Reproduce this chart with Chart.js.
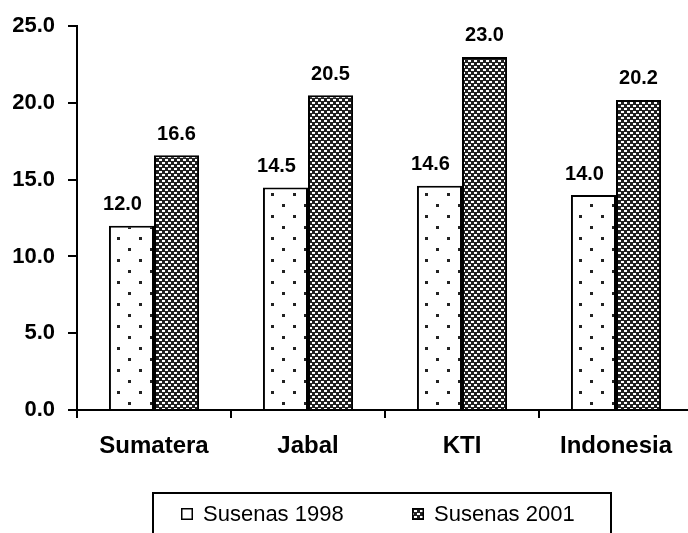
<!DOCTYPE html>
<html>
<head>
<meta charset="utf-8">
<script src="https://cdn.jsdelivr.net/npm/chart.js@4.4.1/dist/chart.umd.min.js"></script>
<style>
  html, body { margin: 0; padding: 0; background: #fff; overflow: hidden; }
  #wrap { width: 700px; height: 533px; }
</style>
</head>
<body>
<div id="wrap"><canvas id="c" width="700" height="533"></canvas></div>
<script>
// --- data ---
const regions = ['Sumatera', 'Jabal', 'KTI', 'Indonesia'];
const susenas1998 = [12.0, 14.5, 14.6, 14.0];
const susenas2001 = [16.6, 20.5, 23.0, 20.2];
const seriesNames = ['Susenas 1998', 'Susenas 2001'];
const yTicks = [0, 5, 10, 15, 20, 25];

const FONT = '"Liberation Sans", Arial, sans-serif';

// dotted fill (1998)
function dotPattern(ctx) {
    const t = document.createElement('canvas');
    t.width = 22; t.height = 22;
    const g = t.getContext('2d');
    g.fillStyle = '#fff';
    g.fillRect(0, 0, 22, 22);
    g.fillStyle = '#222';
    g.fillRect(7, 17, 3, 3);
    g.fillRect(18, 6, 3, 3);
    return ctx.createPattern(t, 'repeat');
}

// checker fill (2001)
function checkPattern(ctx) {
    const t = document.createElement('canvas');
    t.width = 6; t.height = 6;
    const g = t.getContext('2d');
    g.fillStyle = '#222';
    g.fillRect(0, 0, 6, 6);
    g.fillStyle = '#fff';
    g.fillRect(0, 0, 3, 2);
    g.fillRect(3, 3, 3, 2);
    return ctx.createPattern(t, 'repeat');
}

const ctx = document.getElementById('c').getContext('2d');
const fills = [dotPattern(ctx), checkPattern(ctx)];

// value labels above bars
const valueLabels = {
    id: 'valueLabels',
    afterDatasetsDraw(chart) {
        const c = chart.ctx;
        c.save();
        c.font = 'bold 20px ' + FONT;
        c.fillStyle = '#000';
        c.textAlign = 'center';
        c.textBaseline = 'middle';
        chart.data.datasets.forEach((ds, i) => {
            const dx = i === 0 ? -9 : 0;
            chart.getDatasetMeta(i).data.forEach((bar, j) => {
                c.fillText(ds.data[j].toFixed(1), bar.x + dx, bar.y - 21);
            });
        });
        c.restore();
    }
};

// boxed legend under the axis
const boxLegend = {
    id: 'boxLegend',
    afterDraw(chart) {
        const c = chart.ctx;
        c.save();
        c.strokeStyle = '#000';
        c.lineWidth = 2;
        c.strokeRect(153, 493, 458, 60);
        c.font = '22px ' + FONT;
        c.textBaseline = 'middle';
        const startX = [181, 412];
        chart.data.datasets.forEach((ds, i) => {
            const x = startX[i];
            c.fillStyle = i === 0 ? '#fff' : fills[1];
            c.fillRect(x, 508, 12, 12);
            c.lineWidth = 1.5;
            c.strokeStyle = '#000';
            c.strokeRect(x + 0.75, 508.75, 10.5, 10.5);
            c.fillStyle = '#000';
            c.fillText(ds.label, x + 22, 515);
        });
        c.restore();
    }
};

new Chart(ctx, {
    type: 'bar',
    data: {
        labels: regions,
        datasets: [
            { label: seriesNames[0], data: susenas1998, backgroundColor: fills[0], borderColor: '#000', borderWidth: 2 },
            { label: seriesNames[1], data: susenas2001, backgroundColor: fills[1], borderColor: '#000', borderWidth: 2 }
        ]
    },
    options: {
        responsive: false,
        animation: false,
        devicePixelRatio: 1,
        categoryPercentage: 0.585,
        barPercentage: 1,
        layout: { padding: { top: 24, right: 7, left: 0, bottom: 0 } },
        plugins: { legend: { display: false }, tooltip: { enabled: false } },
        scales: {
            x: {
                grid: { offset: true, drawOnChartArea: false, color: '#000', lineWidth: 2, tickLength: 8 },
                border: { color: '#000', width: 2 },
                ticks: { color: '#000', font: { family: FONT, size: 24, weight: 'bold' }, padding: 14, maxRotation: 0 },
                afterFit(s) { s.height = 123; }
            },
            y: {
                min: yTicks[0],
                max: yTicks[yTicks.length - 1],
                afterBuildTicks(s) { s.ticks = yTicks.map(v => ({ value: v })); },
                grid: { drawOnChartArea: false, color: '#000', lineWidth: 2, tickLength: 9 },
                border: { color: '#000', width: 2 },
                ticks: { color: '#000', font: { family: FONT, size: 22, weight: 'bold' }, padding: 13,
                         callback: v => Number(v).toFixed(1) },
                afterFit(s) { s.width = 77; }
            }
        }
    },
    plugins: [valueLabels, boxLegend]
});
</script>
</body>
</html>
